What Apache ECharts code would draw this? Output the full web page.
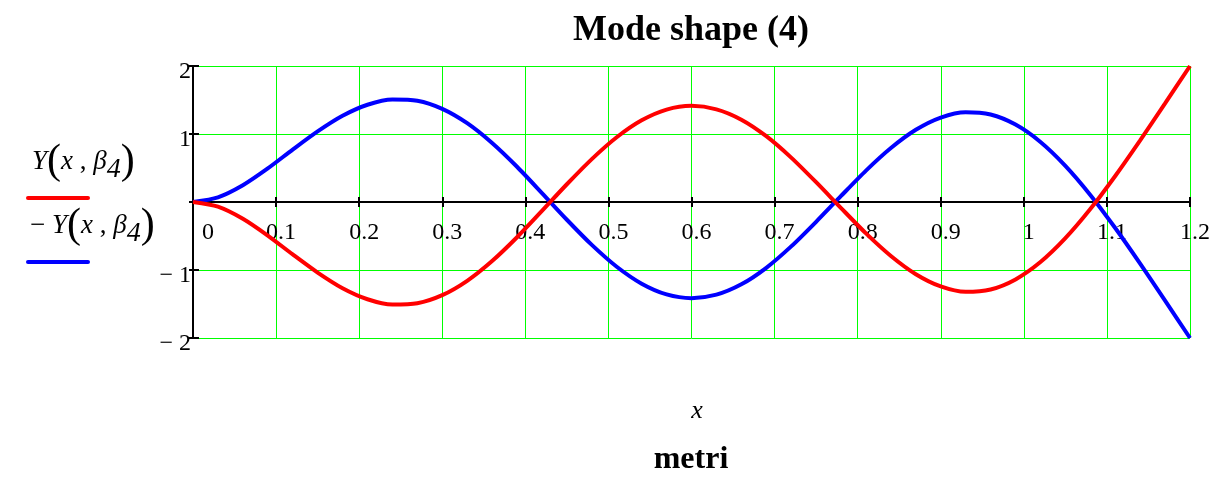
<!DOCTYPE html>
<html>
<head>
<meta charset="utf-8">
<script src="https://cdn.jsdelivr.net/npm/echarts@6/dist/echarts.min.js"></script>
<style>
  html, body { margin: 0; padding: 0; background: #fff; }
  #main { width: 1232px; height: 480px; }
</style>
</head>
<body>
<div id="main"></div>
<script>
// x positions (metri) and the mode shape values
var xs = [0, 0.03, 0.06, 0.09, 0.12, 0.15, 0.18, 0.21, 0.24, 0.27,
          0.30, 0.33, 0.36, 0.39, 0.42, 0.45, 0.48, 0.51, 0.54, 0.57,
          0.60, 0.63, 0.66, 0.69, 0.72, 0.75, 0.78, 0.81, 0.84, 0.87,
          0.90, 0.93, 0.96, 0.99, 1.02, 1.05, 1.08, 1.11, 1.14, 1.17, 1.20];
var modeY = [0, -0.069, -0.247, -0.494, -0.771, -1.038, -1.268, -1.430, -1.508, -1.489,
             -1.370, -1.159, -0.868, -0.518, -0.131, 0.261, 0.631, 0.952, 1.201, 1.359,
             1.414, 1.363, 1.211, 0.968, 0.653, 0.291, -0.089, -0.462, -0.794, -1.062,
             -1.242, -1.321, -1.286, -1.138, -0.883, -0.532, -0.104, 0.383, 0.907, 1.451, 2.000];
var modeNegY = [0, 0.069, 0.247, 0.494, 0.771, 1.038, 1.268, 1.430, 1.508, 1.489,
                1.370, 1.159, 0.868, 0.518, 0.131, -0.261, -0.631, -0.952, -1.201, -1.359,
                -1.414, -1.363, -1.211, -0.968, -0.653, -0.291, 0.089, 0.462, 0.794, 1.062,
                1.242, 1.321, 1.286, 1.138, 0.883, 0.532, 0.104, -0.383, -0.907, -1.451, -2.000];
var xRange = [0, 1.2];
var yRange = [-2, 2];

var serif = '"Liberation Serif", "Times New Roman", serif';

function pairs(ys) {
    return xs.map(function (x, i) { return [x, ys[i]]; });
}

var myChart = echarts.init(document.getElementById('main'));

var gridTop = 66, gridBottom = 142, plotH = 480 - gridTop - gridBottom;
// the x axis sits on y = 0, so lift it from the bottom edge of the grid
var zeroLift = -plotH * (0 - yRange[0]) / (yRange[1] - yRange[0]);

var baseX = { type: 'value', min: xRange[0], max: xRange[1], interval: 0.1, position: 'bottom', offset: zeroLift };
var baseY = { type: 'value', min: yRange[0], max: yRange[1], interval: 1, position: 'left' };

// legend label in Mathcad style
var legendRich = {
    i: { fontFamily: serif, fontSize: 27, fontStyle: 'italic', fill: '#000' },
    n: { fontFamily: serif, fontSize: 27, fill: '#000' },
    p: { fontFamily: serif, fontSize: 42, fontWeight: 'lighter', fill: '#000' },
    s: { fontFamily: serif, fontSize: 28, fontStyle: 'italic', fill: '#000', padding: [16, 0, 0, 0] }
};

var option = {
    animation: false,
    backgroundColor: '#fff',
    title: {
        text: 'Mode shape (4)',
        left: 686, top: 8, textAlign: 'center',
        textStyle: { fontFamily: serif, fontSize: 36, fontWeight: 'bold', color: '#000' }
    },
    grid: { left: 193, right: 42, top: gridTop, bottom: gridBottom },
    xAxis: [
        Object.assign({}, baseX, {
            axisLine: { onZero: false, lineStyle: { color: '#000', width: 2 } },
            axisTick: { show: true, length: 5, lineStyle: { color: '#000', width: 2 } },
            splitLine: { show: true, lineStyle: { color: '#00ff00', width: 1 } },
            axisLabel: {
                fontFamily: serif, fontSize: 24, color: '#000', margin: 19,
                padding: [0, 0, 0, 10],
                formatter: function (v) {
                    var s = String(parseFloat(v.toFixed(1)));
                    return v === 0 ? '{z|' + s + '}' : s;
                },
                rich: { z: { fontFamily: serif, fontSize: 24, color: '#000', padding: [0, 0, 0, 20] } }
            }
        }),
        Object.assign({}, baseX, {
            axisLine: { onZero: false, lineStyle: { color: '#000', width: 2 } },
            axisTick: { show: true, inside: true, length: 5, lineStyle: { color: '#000', width: 2 } },
            splitLine: { show: false },
            axisLabel: { show: false }
        })
    ],
    yAxis: [
        Object.assign({}, baseY, {
            axisLine: { onZero: false, lineStyle: { color: '#000', width: 2 } },
            axisTick: { show: true, length: 4, lineStyle: { color: '#000', width: 2 } },
            splitLine: { show: true, lineStyle: { color: '#00ff00', width: 1 } },
            axisLabel: {
                fontFamily: serif, fontSize: 24, color: '#000', margin: 2,
                verticalAlign: 'top', lineHeight: 12,
                formatter: function (v) {
                    if (v === 0) return '';
                    return v < 0 ? '\u2212 ' + (-v) : String(v);
                }
            }
        }),
        Object.assign({}, baseY, {
            axisLine: { onZero: false, lineStyle: { color: '#000', width: 2 } },
            axisTick: { show: true, inside: true, length: 6, lineStyle: { color: '#000', width: 2 } },
            splitLine: { show: false },
            axisLabel: { show: false }
        })
    ],
    series: [
        {
            name: '-Y(x, β4)',
            type: 'line',
            xAxisIndex: 0, yAxisIndex: 0,
            data: pairs(modeNegY),
            smooth: 0.25,
            showSymbol: false,
            lineStyle: { color: '#0000ff', width: 4 }
        },
        {
            name: 'Y(x, β4)',
            type: 'line',
            xAxisIndex: 0, yAxisIndex: 0,
            data: pairs(modeY),
            smooth: 0.25,
            showSymbol: false,
            lineStyle: { color: '#ff0000', width: 4 }
        }
    ],
    graphic: [
        {
            type: 'text', left: 32, top: 141,
            style: { text: '{i|Y}{p|(}{i|x}{n| , }{i|β}{s|4}{p|)}', rich: legendRich }
        },
        {
            type: 'line',
            shape: { x1: 28, y1: 198, x2: 88, y2: 198 },
            style: { stroke: '#ff0000', lineWidth: 4, lineCap: 'round' }
        },
        {
            type: 'text', left: 30, top: 205,
            style: { text: '{n|\u2212 }{i|Y}{p|(}{i|x}{n| , }{i|β}{s|4}{p|)}', rich: legendRich }
        },
        {
            type: 'line',
            shape: { x1: 28, y1: 262, x2: 88, y2: 262 },
            style: { stroke: '#0000ff', lineWidth: 4, lineCap: 'round' }
        },
        {
            type: 'text', x: 697, y: 411,
            style: {
                text: 'x', textAlign: 'center', textVerticalAlign: 'middle',
                fontFamily: serif, fontSize: 26, fontStyle: 'italic', fill: '#000'
            }
        },
        {
            type: 'text', x: 691, y: 460,
            style: {
                text: 'metri', textAlign: 'center', textVerticalAlign: 'middle',
                fontFamily: serif, fontSize: 32, fontWeight: 'bold', fill: '#000'
            }
        }
    ]
};

myChart.setOption(option);
</script>
</body>
</html>
